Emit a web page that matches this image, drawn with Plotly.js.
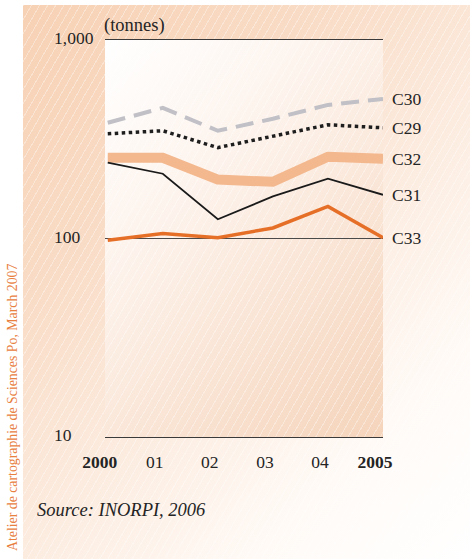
<!DOCTYPE html>
<html>
<head>
<meta charset="utf-8">
<script src="https://cdn.plot.ly/plotly-3.0.1.min.js"></script>
<style>
  html, body { margin: 0; padding: 0; background: #ffffff; }
  #wrap { position: relative; width: 470px; height: 559px; overflow: hidden; background: #ffffff; }
  #panel { position: absolute; left: 23px; top: 5px; width: 447px; height: 554px;
    background: linear-gradient(135deg, #f7d1b4 0%, #f9dcc6 30%, #fcece0 55%, #fffaf6 78%, #ffffff 100%); }
  #plotbg { position: absolute; left: 105px; top: 40px; width: 278px; height: 397px;
    background: linear-gradient(135deg, #ffffff 0%, #fdf3ec 35%, #f9e2d1 70%, #f5d4bb 100%); }
  .hatch { position: absolute; left: 23px; top: 5px; width: 447px; height: 554px;
    background: repeating-linear-gradient(120deg, rgba(255,255,255,0.35) 0px, rgba(255,255,255,0.35) 1px, rgba(255,255,255,0) 1px, rgba(255,255,255,0) 7px); }
  #chart { position: absolute; left: 0; top: 0; width: 470px; height: 559px; }
</style>
</head>
<body>
<div id="wrap">
  <div id="panel"></div>
  <div id="plotbg"></div>
  <div class="hatch"></div>
  <div id="chart"></div>
</div>
<script>
// ---- data ----
const years = [2000, 2001, 2002, 2003, 2004, 2005];
const yearLabels = ["<b>2000</b>", "01", "02", "03", "04", "<b>2005</b>"];
const C30 = [383, 455, 349, 401, 471, 505];
const C29 = [337, 349, 287, 326, 374, 361];
const C32 = [255, 255, 198, 193, 258, 252];
const C31 = [241, 212, 125, 163, 200, 166];
const C33 = [98, 106, 101, 113, 145, 101];
const seriesNames = ["C30", "C29", "C32", "C31", "C33"];
const yTickVals = [10, 100, 1000];
const yTickText = ["10", "100", "1,000"];
const unitLabel = "(tonnes)";
const sourceText = "Source: INORPI, 2006";
const creditText = "Atelier de cartographie de Sciences Po, March 2007";

// ---- styles ----
const styles = {
  C30: {color: "#c0c0c6", width: 4, dash: "18px,9px"},
  C29: {color: "#1e1e1e", width: 3.5, dash: "dot"},
  C32: {color: "#f4b88e", width: 10, dash: "solid"},
  C31: {color: "#1a1a1a", width: 1.8, dash: "solid"},
  C33: {color: "#e66f28", width: 3.5, dash: "solid"}
};
const seriesData = {C30, C29, C32, C31, C33};

const traces = seriesNames.map(n => ({
  type: "scatter", mode: "lines", x: years, y: seriesData[n], name: n,
  line: {color: styles[n].color, width: styles[n].width, dash: styles[n].dash},
  hoverinfo: "skip"
}));

const serif = "Liberation Serif";
const textColor = "#242424";

const annotations = [];
// y tick labels, left aligned
yTickVals.forEach((v, i) => {
  annotations.push({
    xref: "paper", yref: "y", x: 0, y: Math.log10(v), xanchor: "left", yanchor: "middle",
    xshift: -53, yshift: 2, showarrow: false, text: yTickText[i],
    font: {family: serif, size: 17.5, color: textColor}
  });
});
// series labels at line ends
seriesNames.forEach(n => {
  const arr = seriesData[n];
  annotations.push({
    xref: "x", yref: "y", x: years[years.length - 1], y: Math.log10(arr[arr.length - 1]),
    xanchor: "left", yanchor: "middle", xshift: 7, yshift: 0, showarrow: false, text: n,
    font: {family: serif, size: 17.5, color: textColor}
  });
});
annotations.push({
  xref: "paper", yref: "paper", x: 0, y: 1, xanchor: "left", yanchor: "bottom",
  xshift: -3, yshift: 2, showarrow: false, text: unitLabel,
  font: {family: serif, size: 18.5, color: textColor}
});
annotations.push({
  xref: "paper", yref: "paper", x: 0, y: 0, xanchor: "left", yanchor: "middle",
  xshift: -70, yshift: -73, showarrow: false, text: "<i>" + sourceText + "</i>",
  font: {family: serif, size: 18.5, color: textColor}
});
annotations.push({
  xref: "paper", yref: "paper", x: 0, y: 0, xanchor: "center", yanchor: "middle",
  xshift: -93, yshift: 29, showarrow: false, text: creditText, textangle: -90,
  font: {family: serif, size: 13.8, color: "#e8803f"}
});

const layout = {
  width: 470, height: 559,
  margin: {l: 105, r: 87, t: 40, b: 122, pad: 0},
  paper_bgcolor: "rgba(0,0,0,0)", plot_bgcolor: "rgba(0,0,0,0)",
  showlegend: false,
  font: {family: serif},
  xaxis: {
    range: [1999.95, 2005.0], tickvals: years, ticktext: yearLabels,
    showgrid: false, zeroline: false, showline: true, mirror: true,
    linecolor: "#3a3a3a", linewidth: 1.3, ticks: "",
    tickfont: {family: serif, size: 17.5, color: textColor},
    ticklabelstandoff: 9, ticklabelshift: -8
  },
  yaxis: {
    type: "log", range: [1, 3], tickvals: yTickVals, showticklabels: false,
    showgrid: true, gridcolor: "#4a4a4a", gridwidth: 1, zeroline: false, showline: false, ticks: ""
  },
  annotations: annotations
};

Plotly.newPlot("chart", traces, layout, {staticPlot: true, displayModeBar: false});
</script>
</body>
</html>
